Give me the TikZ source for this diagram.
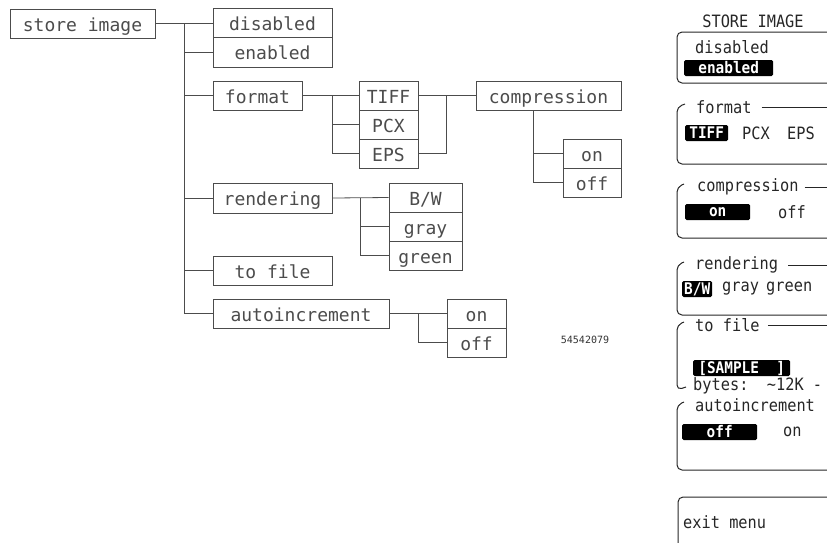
\documentclass[tikz,border=0pt]{standalone}
\usepackage{fontspec}
\newfontfamily\treefont{DejaVu Sans Mono}
\newfontfamily\panelfont[FakeStretch=0.9]{DejaVu Sans Mono}
\begin{document}
\begin{tikzpicture}[x=1pt,y=-1pt,
  box/.style={draw=black!70, line width=0.8pt, inner sep=0pt, text=black!70,
    text height=15pt, text depth=0pt,
    font=\treefont\fontsize{18}{20}\selectfont},
  wire/.style={draw=black!70, line width=0.8pt},
  panel/.style={draw=black!85, line width=1pt, rounded corners=5pt},
  ptext/.style={inner sep=0pt, anchor=west, text=black!85,
    font=\panelfont\fontsize{17}{19}\selectfont},
  hl/.style={fill=black, text=white, rounded corners=1.5pt, inner sep=0pt,
    minimum height=16pt, anchor=west,
    font=\panelfont\bfseries\fontsize{16}{18}\selectfont},
]
\useasboundingbox (0,0) rectangle (827,542);
\clip (0,0) rectangle (827,542);

% ---------------- tree ----------------
\node[box, minimum width=145pt, minimum height=29pt] (store) at (82.5,23.5) {store image};
\node[box, minimum width=119pt, minimum height=29pt] (disabled) at (272.5,22.5) {disabled};
\node[box, minimum width=119pt, minimum height=30pt] (enabled) at (272.5,52) {enabled};
\node[box, minimum width=89pt, minimum height=29pt] (format) at (257.5,95.5) {format};
\node[box, minimum width=59pt, minimum height=29pt] (tiff) at (388.5,95.5) {TIFF};
\node[box, minimum width=59pt, minimum height=29pt] (pcx) at (388.5,124.5) {PCX};
\node[box, minimum width=59pt, minimum height=29pt] (eps) at (388.5,153.5) {EPS};
\node[box, minimum width=145pt, minimum height=29pt] (compression) at (548.5,95.5) {compression};
\node[box, minimum width=58pt, minimum height=29pt] (con) at (592,153.5) {on};
\node[box, minimum width=58pt, minimum height=29pt] (coff) at (592,182.5) {off};
\node[box, minimum width=119pt, minimum height=30pt] (rendering) at (272.5,198) {rendering};
\node[box, minimum width=73pt, minimum height=29pt] (bw) at (425.5,197.5) {B/W};
\node[box, minimum width=73pt, minimum height=29pt] (gray) at (425.5,226.5) {gray};
\node[box, minimum width=73pt, minimum height=29pt] (green) at (425.5,255.5) {green};
\node[box, minimum width=119pt, minimum height=29pt] (tofile) at (272.5,270.5) {to file};
\node[box, minimum width=176pt, minimum height=29pt] (autoinc) at (301,313.5) {autoincrement};
\node[box, minimum width=59pt, minimum height=29pt] (aon) at (476.5,313.5) {on};
\node[box, minimum width=59pt, minimum height=29pt] (aoff) at (476.5,342.5) {off};
\node[inner sep=0pt, text=black!80, font=\treefont\fontsize{10}{11}\selectfont] (code) at (585,340) {54542079};

\coordinate (trunk) at (184,23.5);
\draw[wire] (store.east) -- (store.east -| disabled.west);
\draw[wire] (trunk) |- (autoinc.west);
\foreach \n in {enabled,format,rendering,tofile}
  \draw[wire] (trunk |- \n.west) -- (\n.west);

\coordinate (fb) at (332,95.5);
\draw[wire] (format.east) -- (tiff.west);
\draw[wire] (fb) |- (eps.west);
\draw[wire] (fb |- pcx.west) -- (pcx.west);

\coordinate (cb) at (446,95.5);
\draw[wire] (tiff.east) -- (compression.west);
\draw[wire] (cb) |- (eps.east);

\coordinate (cv) at (533,110);
\draw[wire] (cv) |- (coff.west);
\draw[wire] (cv |- con.west) -- (con.west);

\coordinate (rb) at (360,198);
\draw[wire] (rendering.east) -- (bw.west);
\draw[wire] (rb) |- (green.west);
\draw[wire] (rb |- gray.west) -- (gray.west);

\coordinate (ab) at (418,313.5);
\draw[wire] (autoinc.east) -- (aon.west);
\draw[wire] (ab) |- (aoff.west);

% ---------------- panel ----------------
\node[ptext, anchor=center] (ptitle) at (753,21) {STORE IMAGE};

% box 1
\draw[panel] (840,32) -- (677,32) -- (677,83) -- (840,83);
\node[ptext] (pdis) at (695,47) {disabled};
\node[hl, minimum width=89pt] (pen) at (684,68) {enabled};

% format
\node[ptext] (pfmt) at (696,107) {format};
\draw[panel] (pfmt.east) ++(10,0) -- (840,107);
\draw[panel] (685,104) -- (677,107) -- (677,164) -- (840,164);
\node[hl, minimum width=43pt] (ptiff) at (685,133) {TIFF};
\node[ptext] (ppcx) at (742,133) {PCX};
\node[ptext] (peps) at (787,133) {EPS};

% compression
\node[ptext] (pcomp) at (697,187) {compression};
\draw[panel] (pcomp.east) ++(6,0) -- (840,187);
\draw[panel] (684,184) -- (677,187) -- (677,238) -- (840,238);
\node[hl, minimum width=65pt] (pon) at (685,212) {on};
\node[ptext] (poff) at (778,212) {off};

% rendering
\node[ptext] (prend) at (695,265) {rendering};
\draw[panel] (prend.east) ++(10,0) -- (840,265);
\draw[panel] (684,262) -- (677,265) -- (677,315) -- (840,315);
\node[hl, minimum width=30pt] (pbw) at (682,289) {B/W};
\node[ptext] (pgray) at (722,289) {gray};
\node[ptext] (pgreen) at (766,289) {green};

% to file
\node[ptext] (pfile) at (695,325) {to file};
\draw[panel] (pfile.east) ++(8,0) -- (840,325);
\draw[panel] (684,322) -- (677,325) -- (677,390) -- (686,387);
\node[hl, minimum width=97pt] (psample) at (693,368) {[SAMPLE~~]};
\node[ptext] (pbytes) at (693,386) {bytes:~~\textasciitilde12K -};

% autoincrement
\node[ptext] (pauto) at (695,405) {autoincrement};
\draw[panel] (684,402) -- (677,405) -- (677,470) -- (840,470);
\node[hl, minimum width=75pt] (paoff) at (682,432) {off};
\node[ptext] (paon) at (783,432) {on};

% exit menu
\draw[panel] (840,497) -- (678,497) -- (678,560);
\node[ptext] (pexit) at (683,522) {exit menu};
\end{tikzpicture}
\end{document}
